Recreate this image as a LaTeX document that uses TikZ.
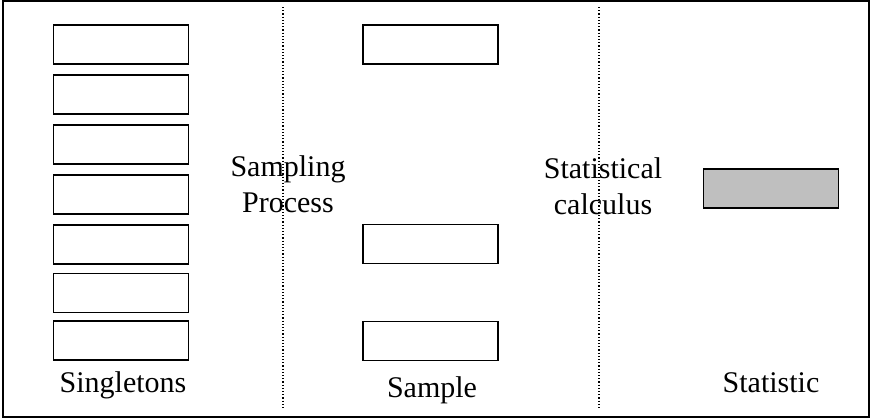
\documentclass[tikz,border=0pt]{standalone}
\usepackage{fontspec}
\setmainfont{Liberation Serif}
\usetikzlibrary{positioning}

\begin{document}
\begin{tikzpicture}[
    x=0.5pt, y=-0.5pt,
    cell/.style={rectangle, draw, line width=0.8pt, minimum width=67.5pt, minimum height=19.5pt, inner sep=0pt},
    result/.style={cell, fill=black!25},
    label/.style={font=\fontsize{15}{18}\selectfont, inner sep=0pt},
    phase/.style={label, align=center},
    divider/.style={densely dotted, line width=0.6pt},
]
\useasboundingbox (0,0) rectangle (871,418);

% outer frame
\draw[line width=1pt] (3,1) rectangle (869,417);

% population of singletons
\foreach \yy [count=\i] in {44.5, 94.5, 144.5, 194.5, 244.5, 293, 340.5}
    \node[cell] (single\i) at (121,\yy) {};
\node[label, anchor=base] (singletons) at (123,392) {Singletons};

% sample drawn from it
\node[cell] (samp1) at (430.5,44.5) {};
\node[cell] (samp2) at (430.5,244) {};
\node[cell] (samp3) at (430.5,341) {};
\node[label, anchor=base] (sample) at (432,397) {Sample};

% resulting statistic
\node[result] (stat) at (771,188.5) {};
\node[label, anchor=base] (statistic) at (771,392) {Statistic};

% stage separators
\coordinate (sepA top) at (283,7);
\coordinate (sepA bot) at (283,410);
\coordinate (sepB top) at (599,7);
\coordinate (sepB bot) at (599,410);
\draw[divider] (sepA top) -- (sepA bot);
\draw[divider] (sepB top) -- (sepB bot);

% stage names
\node[phase] (sampling) at (288,184.5) {Sampling\\Process};
\node[phase] (calculus) at (603,186.5) {Statistical\\calculus};

\end{tikzpicture}
\end{document}
